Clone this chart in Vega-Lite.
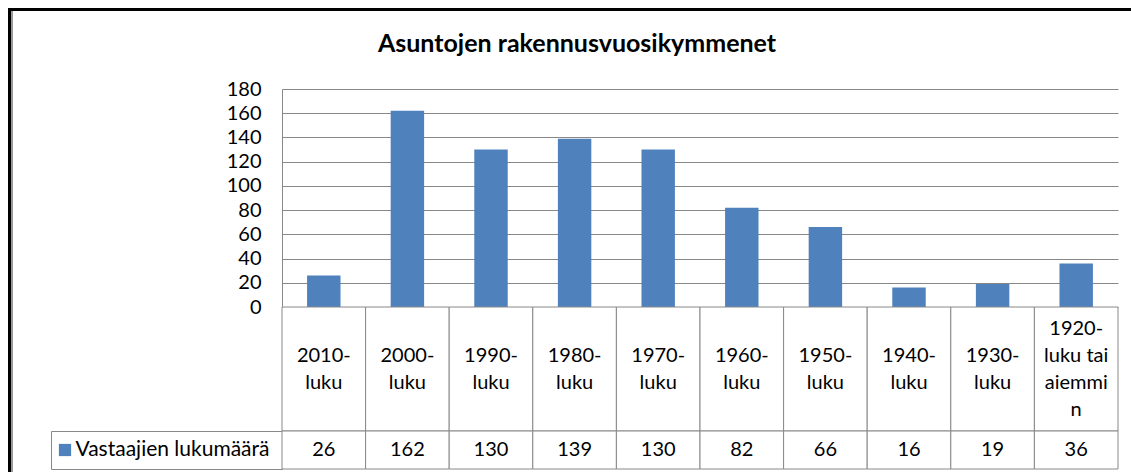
{
  "$schema": "https://vega.github.io/schema/vega-lite/v6.json",
  "padding": {"left": 8, "top": 8, "right": 0, "bottom": 0},
  "autosize": {"type": "pad"},
  "background": "white",
  "title": {"text": "Asuntojen rakennusvuosikymmenet", "font": "Lato", "fontSize": 25, "fontWeight": "bold", "color": "#000", "anchor": "middle", "frame": "bounds", "offset": -49, "dx": 7.5},
  "datasets": {
    "d": [
      {"decade": "2010-luku", "label": "2010-\nluku", "count": 26},
      {"decade": "2000-luku", "label": "2000-\nluku", "count": 162},
      {"decade": "1990-luku", "label": "1990-\nluku", "count": 130},
      {"decade": "1980-luku", "label": "1980-\nluku", "count": 139},
      {"decade": "1970-luku", "label": "1970-\nluku", "count": 130},
      {"decade": "1960-luku", "label": "1960-\nluku", "count": 82},
      {"decade": "1950-luku", "label": "1950-\nluku", "count": 66},
      {"decade": "1940-luku", "label": "1940-\nluku", "count": 16},
      {"decade": "1930-luku", "label": "1930-\nluku", "count": 19},
      {"decade": "1920-luku tai aiemmin", "label": "1920-\nluku tai\naiemmi\nn", "count": 36}
    ],
    "series": [{"s": "Vastaajien lukumäärä"}],
    "none": []
  },
  "spacing": 0,
  "vconcat": [
    {"width": 1123, "height": 3, "data": {"name": "none"}, "mark": "point", "view": {"fill": "#000", "stroke": null}},
    {
      "spacing": 37,
      "hconcat": [
        {
          "spacing": 0,
          "hconcat": [
            {"width": 3, "height": 461, "data": {"name": "none"}, "mark": "point", "view": {"fill": "#000", "stroke": null}},
            {"width": 2, "height": 461, "data": {"name": "none"}, "mark": "point", "view": {"fill": "#9a9a9a", "stroke": null}}
          ]
        },
        {
          "columns": 2,
          "spacing": 0,
          "bounds": "flush",
          "concat": [
            {"width": 231, "height": 78, "data": {"name": "none"}, "mark": "point", "view": {"stroke": null}},
            {"width": 836, "height": 78, "data": {"name": "none"}, "mark": "point", "view": {"stroke": null}},
            {"width": 231, "height": 218, "data": {"name": "none"}, "mark": "point", "view": {"stroke": null}},
            {
              "width": 836, "height": 218,
              "data": {"name": "d"},
              "view": {"stroke": null},
              "mark": {"type": "bar", "color": "#4F81BD"},
              "encoding": {
                "x": {"field": "decade", "type": "nominal", "sort": null, "scale": {"paddingInner": 0.6, "paddingOuter": 0.3}, "axis": null},
                "y": {"field": "count", "type": "quantitative", "scale": {"domain": [0, 180], "nice": false},
                  "axis": {"values": [0, 20, 40, 60, 80, 100, 120, 140, 160, 180], "title": null, "grid": true, "gridColor": "#888", "gridWidth": 1, "domain": true, "domainColor": "#888", "ticks": false, "labelPadding": 21, "labelFont": "Lato", "labelFontSize": 20, "labelColor": "#000"}}
              }
            },
            {"width": 231, "height": 124, "data": {"name": "none"}, "mark": "point", "view": {"stroke": null}},
            {
              "width": 836, "height": 124,
              "data": {"name": "d"},
              "view": {"stroke": null},
              "encoding": {"x": {"field": "decade", "type": "nominal", "sort": null, "scale": {"paddingInner": 0, "paddingOuter": 0}, "axis": null}},
              "layer": [
                {"mark": {"type": "rect", "fill": "white", "stroke": "#888", "strokeWidth": 1}},
                {
                  "transform": [{"filter": "length(split(datum.label, '\\n')) == 2"}],
                  "mark": {"type": "text", "font": "Lato", "fontSize": 20, "lineBreak": "\n", "lineHeight": 27, "baseline": "middle", "dy": -13.5, "color": "#000"},
                  "encoding": {"text": {"field": "label"}}
                },
                {
                  "transform": [{"filter": "length(split(datum.label, '\\n')) == 4"}],
                  "mark": {"type": "text", "font": "Lato", "fontSize": 20, "lineBreak": "\n", "lineHeight": 27, "baseline": "middle", "dy": -40.5, "color": "#000"},
                  "encoding": {"text": {"field": "label"}}
                }
              ]
            },
            {
              "width": 231, "height": 38,
              "data": {"name": "series"},
              "view": {"stroke": "#888", "strokeWidth": 1},
              "layer": [
                {"mark": {"type": "point", "shape": "square", "filled": true, "color": "#4F81BD", "opacity": 1, "size": 150, "xOffset": -101.5}, "encoding": {}},
                {"mark": {"type": "text", "font": "Lato", "fontSize": 21, "align": "left", "dx": -91, "baseline": "middle", "color": "#000"}, "encoding": {"text": {"field": "s"}}}
              ]
            },
            {
              "width": 836, "height": 38,
              "data": {"name": "d"},
              "view": {"stroke": null},
              "encoding": {"x": {"field": "decade", "type": "nominal", "sort": null, "scale": {"paddingInner": 0, "paddingOuter": 0}, "axis": null}},
              "layer": [
                {"mark": {"type": "rect", "fill": "white", "stroke": "#888", "strokeWidth": 1}},
                {"mark": {"type": "text", "font": "Lato", "fontSize": 20, "baseline": "middle", "color": "#000"}, "encoding": {"text": {"field": "count", "type": "quantitative"}}}
              ]
            }
          ]
        }
      ]
    }
  ]
}
